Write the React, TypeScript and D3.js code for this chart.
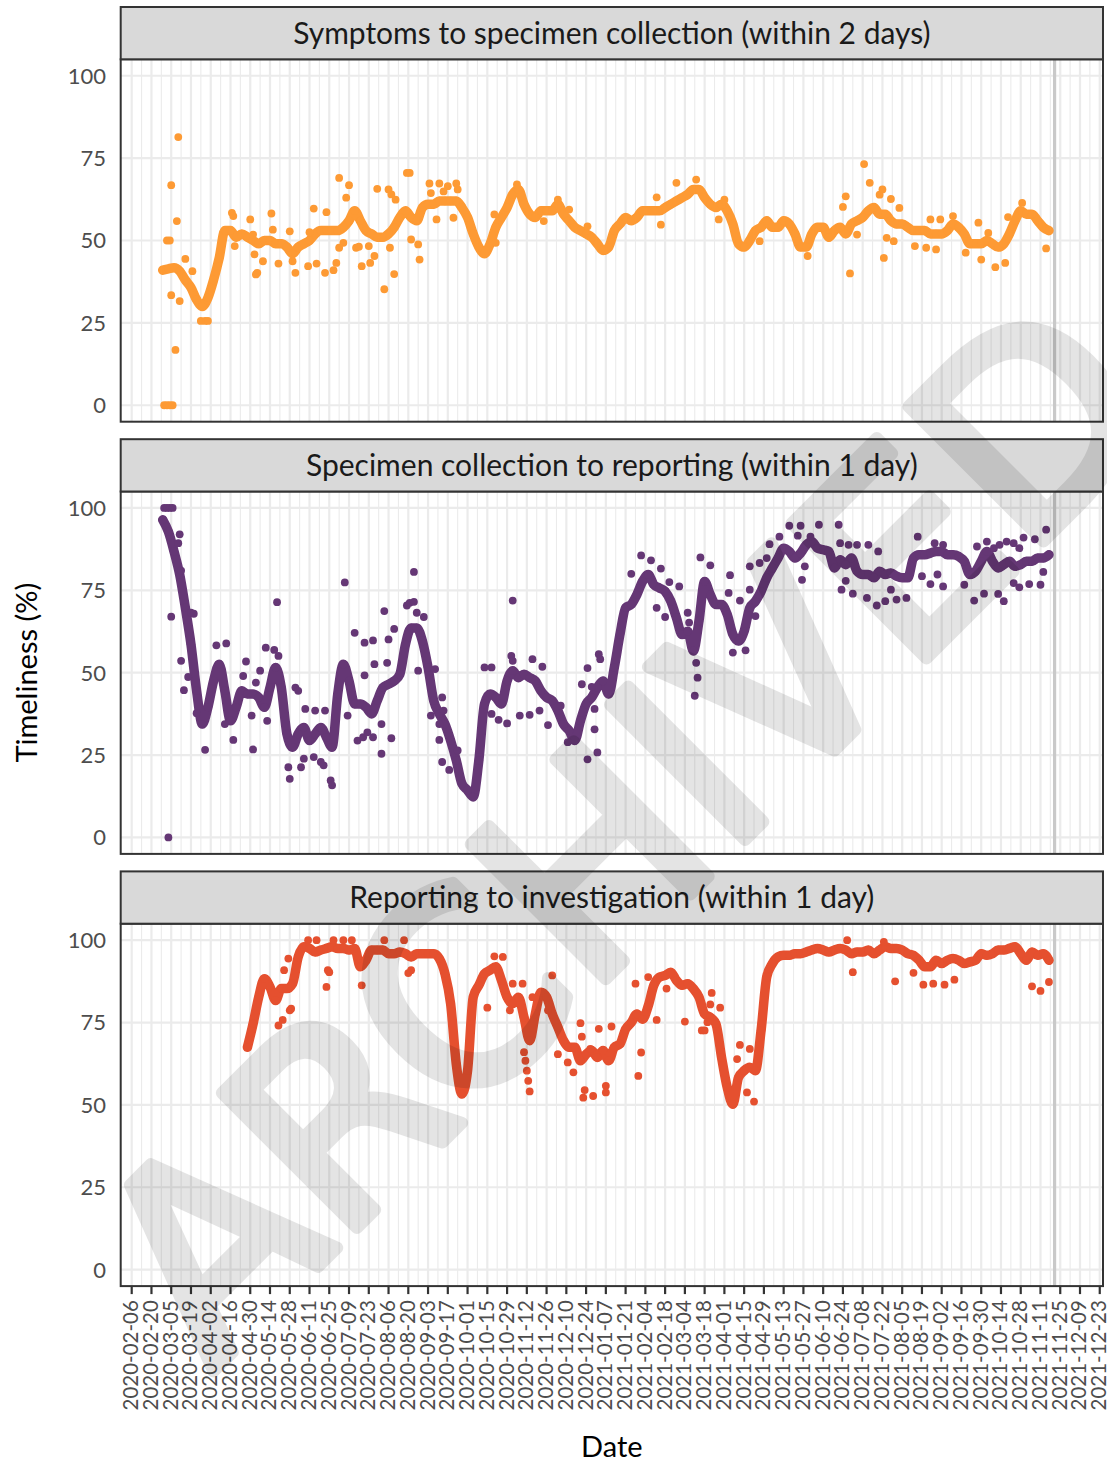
import React from "react";
import * as d3 from "d3";

type Pt = [string, number];

const panelTitles = [
  "Symptoms to specimen collection (within 2 days)",
  "Specimen collection to reporting (within 1 day)",
  "Reporting to investigation (within 1 day)",
];
const seriesColors = ["#fd9a34", "#653775", "#e5502f"];

// main daily trace, read every 4 days from the start date
const traceStarts = ["2020-02-28", "2020-02-28", "2020-04-28"];
const traceStep = 4;

const symptomsTrace = [
  41, 41.4, 41.7, 40.7, 38, 35.7, 32, 30, 32.6, 38, 44.7, 53, 53, 51, 52, 51, 50, 49, 50, 50,
  49, 49, 48, 46, 48, 49, 50, 52, 53, 53, 53, 53, 54, 56, 59, 56, 53, 52, 51, 51,
  52, 54, 57, 59, 57, 56, 60, 61, 61, 62, 62, 62, 62, 60, 57, 52, 48, 46, 49, 54,
  57, 60, 64, 65.5, 61, 58, 57, 59, 59, 59, 61, 58, 56, 54, 53, 52, 51, 49, 47,
  48, 53, 55, 57, 56, 57, 59, 59, 59, 59, 60, 61, 62, 63, 64, 65.5, 65.5, 63, 61, 60,
  61, 59, 55, 49, 48, 50, 53, 54, 56, 54, 54, 56, 55, 52, 48, 48, 52, 54, 54, 51,
  53, 54, 52, 55, 56, 57, 59, 60, 58, 58, 56, 55, 55, 54, 53, 53, 53, 52, 52, 52,
  53, 55, 54, 52, 49, 49, 49, 50, 49, 48, 49, 52, 56, 59, 58, 58, 56, 54, 53,
];

const collectionTrace = [
  96.4, 92.8, 86.8, 79.8, 69.7, 58.6, 44.5, 34.4, 39.5, 47.5, 52.6, 44.5, 35.4, 39.5, 44.5, 43.5, 43.5, 42.5, 39.5, 45.5,
  51.6, 45.5, 31.4, 27.4, 31.4, 33.4, 29.4, 31.4, 33.4, 30.4, 27.4, 43.5, 52.6, 47.5, 40.5, 40.5, 39.5, 37.5, 41.5, 45.5,
  46.5, 47.5, 49.5, 58.6, 63.6, 63.6, 59.6, 51.6, 41.5, 37.5, 34.4, 29.4, 23.4, 16.3, 14.3, 12.3, 23.4, 40.5, 43.5, 42.5,
  40.5, 47.5, 50.6, 48.5, 49.5, 48.5, 47.5, 44.5, 42.5, 41.5, 38.5, 34.4, 32.4, 29.4, 35.4, 40.5, 42.5, 45.5, 47.5,
  43.5, 51.6, 61.6, 69.7, 70.7, 73.7, 77.7, 79.8, 76.7, 75.7, 74.7, 71.7, 66.7, 61.6, 62.6, 56.6, 65.7, 77.7, 73.7, 70.7,
  70.7, 67.7, 61.6, 59.6, 62.6, 69.7, 71.7, 74.7, 78.8, 81.8, 84.8, 87.8, 86.8, 84.8, 86.3, 88.8, 89.8, 87.8, 87.3, 86.8,
  81.8, 84.3, 82.8, 84.8, 80.8, 79.8, 79.8, 78.8, 80.8, 79.8, 80.3, 79.3, 78.8, 78.8, 84.8, 85.8, 85.8, 86.3, 86.8, 86.8,
  85.8, 85.8, 85.3, 83.8, 79.8, 80.8, 83.8, 86.8, 83.8, 81.8, 82.8, 83.8, 82.3, 82.8, 83.8, 83.8, 84.8, 84.8, 85.8,
];

const reportingTrace = [
  67.5, 74.6, 82.7, 88.3, 85.8, 81.7, 85.3, 85.3, 86.8, 94.9, 98, 97.5, 96.4, 97, 97.5, 98, 97.5, 97.5, 97, 97.5,
  91.9, 93.9, 97, 97, 97, 95.9, 95.9, 96.4, 95.9, 94.9, 95.9, 95.9, 95.9, 95.9, 94.4, 89.8, 80.7, 62.4, 53.3, 60.4,
  82.7, 86.3, 89.8, 90.9, 91.9, 87.8, 82.7, 80.7, 82.7, 76.6, 69.5, 77.6, 84.2, 82.7, 77.6, 73.6, 69.5, 67.5, 67.5, 63.4,
  65.4, 66.5, 64.4, 66.5, 63.4, 67.5, 68.5, 73, 75, 77.6, 76, 80, 86.3, 88.8, 89.3, 90.3, 87.8, 86.3, 86.8, 85.3,
  82.7, 77.6, 76.6, 74.6, 64.4, 55.3, 50.2, 58.3, 60.4, 61.4, 60.4, 72.6, 88.8, 92.9, 94.9, 95.4, 95.4, 95.9, 95.9, 96.4,
  97, 97.5, 97, 96.4, 97, 97.5, 97, 95.9, 96.4, 96.4, 97, 95.9, 97, 98, 97.5, 97.5, 97, 95.9, 95.4, 93.9,
  91.9, 91.9, 93.9, 92.9, 93.9, 94.4, 93.9, 92.9, 93.4, 93.9, 95.9, 95.4, 95.9, 97, 97, 97.5, 98, 95.9, 93.9, 96.4,
  95.4, 95.9, 93.9,
];

// single days lying away from the main trace
const symptomsOutliers: Pt[] = [
  ["2020-03-10", 81.4], ["2020-03-05", 66.8], ["2020-03-09", 55.9], ["2020-03-02", 50], ["2020-03-04", 50],
  ["2020-03-05", 33.4], ["2020-03-08", 16.8], ["2020-02-29", 0], ["2020-03-02", 0], ["2020-03-04", 0], ["2020-03-06", 0],
  ["2020-03-11", 31.6], ["2020-03-15", 44.4], ["2020-03-20", 40.7], ["2020-03-26", 25.6], ["2020-03-29", 25.6],
  ["2020-03-31", 25.6], ["2020-04-17", 58.4], ["2020-04-18", 57.4], ["2020-04-30", 56.4], ["2020-05-02", 51.8],
  ["2020-04-19", 48.3], ["2020-05-03", 45.8], ["2020-05-04", 39.7], ["2020-05-05", 40.2], ["2020-05-09", 43.7],
  ["2020-05-15", 58.2], ["2020-05-16", 53.3], ["2020-05-20", 43], ["2020-05-28", 52.8], ["2020-06-01", 40.2],
  ["2020-05-30", 43.7], ["2020-06-11", 52.5], ["2020-06-10", 42.2], ["2020-06-16", 43], ["2020-06-14", 59.7],
  ["2020-06-23", 58.6], ["2020-06-22", 40.2], ["2020-06-28", 41], ["2020-06-30", 43.2], ["2020-07-02", 47.8],
  ["2020-07-05", 49.3], ["2020-07-02", 69], ["2020-07-09", 66.8], ["2020-07-07", 63], ["2020-07-14", 47.8],
  ["2020-07-16", 48.1], ["2020-07-18", 42.2], ["2020-07-23", 48.3], ["2020-07-24", 43.2], ["2020-07-27", 45.3],
  ["2020-07-29", 65.7], ["2020-08-06", 65.5], ["2020-08-08", 64], ["2020-08-11", 62.4], ["2020-08-03", 35.2],
  ["2020-08-10", 39.8], ["2020-08-07", 47.8], ["2020-08-19", 70.5], ["2020-08-21", 70.5], ["2020-08-22", 50.3],
  ["2020-08-27", 48.8], ["2020-08-28", 44.2], ["2020-09-04", 67.3], ["2020-09-11", 67.3], ["2020-09-17", 66.5],
  ["2020-09-23", 67.3], ["2020-09-05", 64.4], ["2020-09-14", 64.9], ["2020-09-24", 65.5], ["2020-09-09", 56.4],
  ["2020-09-21", 56.9], ["2020-10-20", 57.9], ["2020-10-21", 49.3], ["2020-11-05", 67], ["2020-11-24", 55.9],
  ["2020-12-04", 62.4], ["2020-12-12", 59.4], ["2020-12-25", 54.3], ["2021-02-26", 67.5], ["2021-02-12", 63.1],
  ["2021-03-12", 68.5], ["2021-03-28", 56.4], ["2021-02-15", 54.8], ["2021-04-01", 62.4], ["2021-04-26", 49.8],
  ["2021-05-30", 45.3], ["2021-06-26", 63.4], ["2021-06-24", 60.2], ["2021-06-29", 40], ["2021-07-04", 51.8],
  ["2021-07-09", 73.2], ["2021-07-13", 67.5], ["2021-07-20", 63.9], ["2021-07-22", 65.5], ["2021-07-28", 62.6],
  ["2021-07-23", 44.7], ["2021-07-25", 50.8], ["2021-07-30", 49.8], ["2021-08-03", 59.9], ["2021-08-14", 48.3],
  ["2021-08-22", 47.8], ["2021-08-29", 47.3], ["2021-09-01", 56.4], ["2021-08-25", 56.4], ["2021-09-10", 57.4],
  ["2021-09-19", 46.3], ["2021-09-28", 55.4], ["2021-09-30", 44.2], ["2021-10-10", 41.9], ["2021-10-17", 43.2],
  ["2021-10-05", 52.3], ["2021-10-19", 57.1], ["2021-11-15", 47.6], ["2021-10-29", 61.4],
];

const collectionOutliers: Pt[] = [
  ["2020-02-29", 100], ["2020-03-02", 100], ["2020-03-04", 100], ["2020-03-06", 100], ["2020-03-03", 0],
  ["2020-03-05", 67], ["2020-03-11", 92], ["2020-03-10", 89.3], ["2020-03-12", 81], ["2020-03-12", 53.6],
  ["2020-03-14", 44.7], ["2020-03-17", 48.7], ["2020-03-19", 68.2], ["2020-03-21", 67.9], ["2020-03-23", 37.7],
  ["2020-03-29", 26.6], ["2020-04-06", 58.3], ["2020-04-13", 58.9], ["2020-04-12", 34.4], ["2020-04-18", 29.6],
  ["2020-04-27", 53.4], ["2020-04-25", 49], ["2020-05-02", 26.7], ["2020-05-04", 47], ["2020-05-07", 50.6],
  ["2020-05-01", 37], ["2020-05-11", 57.6], ["2020-05-17", 56.9], ["2020-05-20", 55.1], ["2020-05-19", 71.4],
  ["2020-05-12", 35.4], ["2020-06-01", 45.5], ["2020-06-03", 44.5], ["2020-05-27", 21.3], ["2020-05-28", 17.8],
  ["2020-06-05", 21.3], ["2020-06-07", 23.9], ["2020-06-08", 39], ["2020-06-15", 38.5], ["2020-06-22", 38.5],
  ["2020-06-14", 24.4], ["2020-06-19", 22.9], ["2020-06-21", 21.9], ["2020-06-26", 17.3], ["2020-06-27", 15.8],
  ["2020-07-06", 77.4], ["2020-07-08", 37], ["2020-07-13", 62.1], ["2020-07-15", 29.4], ["2020-07-19", 30.4],
  ["2020-07-22", 31.9], ["2020-07-20", 49.2], ["2020-07-20", 59.1], ["2020-07-26", 59.8], ["2020-07-27", 52.6],
  ["2020-07-26", 30.4], ["2020-08-01", 34.4], ["2020-08-01", 25.4], ["2020-08-08", 30.1], ["2020-08-03", 68.7],
  ["2020-08-06", 60.1], ["2020-08-10", 63.3], ["2020-08-05", 53], ["2020-08-19", 70.4], ["2020-08-21", 71.2],
  ["2020-08-24", 71.5], ["2020-08-24", 80.6], ["2020-08-26", 68.2], ["2020-08-31", 66.9], ["2020-08-27", 50.6],
  ["2020-09-08", 51.1], ["2020-09-05", 37], ["2020-09-11", 34.4], ["2020-09-11", 29.6], ["2020-09-13", 42.5],
  ["2020-09-14", 38.5], ["2020-09-13", 22.9], ["2020-09-18", 20.5], ["2020-09-24", 26.4], ["2020-10-13", 51.6],
  ["2020-10-18", 51.6], ["2020-10-18", 37.5], ["2020-10-23", 35.7], ["2020-10-29", 34.6], ["2020-11-02", 71.9],
  ["2020-11-01", 55.1], ["2020-11-02", 53.6], ["2020-11-07", 37], ["2020-11-14", 37.2], ["2020-11-16", 54.1],
  ["2020-11-23", 51.8], ["2020-11-21", 38.5], ["2020-11-27", 34.1], ["2020-12-06", 40], ["2020-12-11", 28.9],
  ["2020-12-25", 23.7], ["2021-01-01", 25.8], ["2020-12-25", 51.4], ["2021-01-02", 55.6], ["2021-01-03", 54.1],
  ["2020-12-21", 46.5], ["2020-12-28", 45.7], ["2020-12-30", 32.8], ["2020-12-30", 39],
  ["2021-01-25", 80], ["2021-02-01", 85.6], ["2021-02-08", 84.1], ["2021-02-15", 81.6], ["2021-02-21", 77.5],
  ["2021-02-28", 76.2], ["2021-02-12", 69.7], ["2021-02-18", 66.9], ["2021-03-06", 68.2], ["2021-03-07", 65.2],
  ["2021-03-15", 85], ["2021-03-22", 82.6], ["2021-03-12", 53], ["2021-03-13", 48.5], ["2021-03-11", 43],
  ["2021-04-05", 79.6], ["2021-04-04", 74.2], ["2021-04-12", 71.9], ["2021-04-19", 75.2], ["2021-04-23", 67.2],
  ["2021-04-07", 56.1], ["2021-04-16", 56.8], ["2021-04-19", 82.3], ["2021-04-26", 83.3], ["2021-05-01", 84.8],
  ["2021-05-03", 89], ["2021-05-10", 91.3], ["2021-05-17", 94.6], ["2021-05-25", 94.6], ["2021-06-07", 94.9],
  ["2021-06-21", 94.9], ["2021-05-23", 91.6], ["2021-06-01", 91.3], ["2021-05-26", 78.2], ["2021-05-28", 82.3],
  ["2021-06-22", 89.3], ["2021-06-28", 88.8], ["2021-07-04", 88.8], ["2021-06-26", 77.9], ["2021-06-23", 75.2],
  ["2021-07-01", 74], ["2021-07-11", 72.7], ["2021-07-18", 70.4], ["2021-07-24", 71.7], ["2021-08-01", 72.2],
  ["2021-08-08", 72.7], ["2021-07-12", 88.8], ["2021-07-19", 86.8], ["2021-07-28", 75.2], ["2021-08-16", 91.3],
  ["2021-08-19", 79.3], ["2021-08-25", 76.9], ["2021-08-30", 79.8], ["2021-09-03", 76.2], ["2021-08-28", 89.3],
  ["2021-09-03", 88.8], ["2021-09-18", 76.7], ["2021-09-25", 71.9], ["2021-10-02", 74], ["2021-10-12", 73.9],
  ["2021-10-16", 71.7], ["2021-09-27", 88.3], ["2021-10-04", 89.8], ["2021-10-23", 77.2], ["2021-10-27", 75.9],
  ["2021-11-03", 76.9], ["2021-11-11", 76.7], ["2021-10-30", 91], ["2021-11-07", 90.5], ["2021-11-15", 93.4],
  ["2021-11-13", 80.6], ["2021-10-09", 87.8], ["2021-10-13", 88.8], ["2021-10-18", 89.8], ["2021-10-23", 89.3],
  ["2021-10-27", 87.8],
];

const reportingOutliers: Pt[] = [
  ["2020-05-27", 94.4], ["2020-05-24", 90.9], ["2020-05-20", 74.1], ["2020-05-23", 75.8], ["2020-05-28", 78.7],
  ["2020-05-29", 79.2], ["2020-06-24", 90.9], ["2020-06-25", 90.3], ["2020-06-23", 85.8], ["2020-06-10", 100],
  ["2020-06-16", 100], ["2020-06-28", 100], ["2020-07-05", 100], ["2020-07-11", 100], ["2020-08-03", 100],
  ["2020-08-17", 100], ["2020-07-18", 86.3], ["2020-08-20", 90], ["2020-08-22", 90.9], ["2020-10-15", 79.5],
  ["2020-10-20", 95.1], ["2020-10-26", 94.9], ["2020-11-30", 89.3], ["2020-11-10", 66], ["2020-11-11", 63.4],
  ["2020-11-12", 60.4], ["2020-11-13", 57.3], ["2020-11-14", 54.1], ["2020-10-31", 78.7], ["2020-11-02", 86.8],
  ["2020-11-09", 86.8], ["2020-11-16", 82.7], ["2020-11-27", 78.7], ["2020-12-20", 74.8], ["2020-12-21", 70.7],
  ["2020-12-27", 67], ["2021-01-02", 73.1], ["2021-01-11", 73.8], ["2020-12-23", 54.5], ["2020-12-29", 52.7],
  ["2021-01-07", 55.8], ["2021-01-07", 53.8], ["2020-12-22", 52.2], ["2021-01-28", 86.8], ["2021-01-30", 58.8],
  ["2020-12-15", 59.9], ["2020-12-04", 65.4], ["2020-12-11", 62.9], ["2021-02-01", 65.9], ["2021-02-06", 88.8],
  ["2021-02-19", 85.3], ["2021-02-12", 75.8], ["2021-03-04", 75.3], ["2021-03-23", 84], ["2021-03-22", 80.5],
  ["2021-03-29", 79.5], ["2021-03-16", 72.6], ["2021-03-18", 72.6], ["2021-03-20", 75.1], ["2021-04-12", 68.2],
  ["2021-04-19", 67], ["2021-04-10", 63.9], ["2021-04-17", 53.8], ["2021-04-22", 51], ["2021-07-01", 90.3],
  ["2021-07-31", 87.5], ["2021-08-13", 90.1], ["2021-08-20", 86.5], ["2021-08-27", 86.8], ["2021-09-04", 86.5],
  ["2021-09-11", 88], ["2021-11-05", 86], ["2021-11-11", 84.6], ["2021-11-17", 87.3], ["2021-06-27", 100],
  ["2021-07-23", 99.5],
];

const dateTicks = [
  "2020-02-06", "2020-02-20", "2020-03-05", "2020-03-19", "2020-04-02", "2020-04-16", "2020-04-30",
  "2020-05-14", "2020-05-28", "2020-06-11", "2020-06-25", "2020-07-09", "2020-07-23", "2020-08-06",
  "2020-08-20", "2020-09-03", "2020-09-17", "2020-10-01", "2020-10-15", "2020-10-29", "2020-11-12",
  "2020-11-26", "2020-12-10", "2020-12-24", "2021-01-07", "2021-01-21", "2021-02-04", "2021-02-18",
  "2021-03-04", "2021-03-18", "2021-04-01", "2021-04-15", "2021-04-29", "2021-05-13", "2021-05-27",
  "2021-06-10", "2021-06-24", "2021-07-08", "2021-07-22", "2021-08-05", "2021-08-19", "2021-09-02",
  "2021-09-16", "2021-09-30", "2021-10-14", "2021-10-28", "2021-11-11", "2021-11-25", "2021-12-09",
  "2021-12-23",
];
const yTicks = [0, 25, 50, 75, 100];
const cutoffDate = "2021-11-21";

const parse = d3.utcParse("%Y-%m-%d");
const DAY = 864e5;

const width = 1107;
const height = 1464;
const plotLeft = 120.7;
const plotRight = 1103;
const top0 = 7;
const stripH = 52.3;
const plotH = 362.4;
const panelStep = 432.2;
const font = "Lato, 'Open Sans', sans-serif";

const tickDates = dateTicks.map((d) => parse(d)!);
const minorDates = tickDates.slice(1).map((d, i) => new Date((+d + +tickDates[i]) / 2));

const x = d3
  .scaleUtc()
  .domain([new Date(+tickDates[0] - 7.8 * DAY), new Date(+tickDates[tickDates.length - 1] + 2.3 * DAY)])
  .range([plotLeft, plotRight]);

const panels = [
  { trace: symptomsTrace, extra: symptomsOutliers },
  { trace: collectionTrace, extra: collectionOutliers },
  { trace: reportingTrace, extra: reportingOutliers },
];

function Panel({ index }: { index: number }) {
  const { trace, extra } = panels[index];
  const color = seriesColors[index];
  const stripTop = top0 + index * panelStep;
  const plotTop = stripTop + stripH;
  const plotBottom = plotTop + plotH;
  const y = d3.scaleLinear().domain([-5, 105]).range([plotBottom, plotTop]);

  const t0 = parse(traceStarts[index])!;
  const pts: [Date, number][] = trace.map((v, i) => [d3.utcDay.offset(t0, i * traceStep), v]);
  const line = d3
    .line<[Date, number]>()
    .x((d) => x(d[0]))
    .y((d) => y(d[1]))
    .curve(d3.curveMonotoneX);

  const cut = x(parse(cutoffDate)!);

  return (
    <g>
      <rect x={plotLeft} y={plotTop} width={plotRight - plotLeft} height={plotH} fill="#fff" />
      {minorDates.map((d, i) => (
        <line key={"mn" + i} x1={x(d)} x2={x(d)} y1={plotTop} y2={plotBottom} stroke="#ebebeb" strokeWidth={1.1} />
      ))}
      {tickDates.map((d, i) => (
        <line key={"mj" + i} x1={x(d)} x2={x(d)} y1={plotTop} y2={plotBottom} stroke="#ebebeb" strokeWidth={2.2} />
      ))}
      {yTicks.map((t) => (
        <line key={"h" + t} x1={plotLeft} x2={plotRight} y1={y(t)} y2={y(t)} stroke="#ebebeb" strokeWidth={2.2} />
      ))}
      <line x1={cut} x2={cut} y1={plotTop} y2={plotBottom} stroke="#c9c9c9" strokeWidth={3.2} />

      <path d={line(pts) ?? ""} fill="none" stroke={color} strokeWidth={9.5} strokeLinejoin="round" strokeLinecap="round" />
      {pts.map((d, i) => (
        <circle key={"p" + i} cx={x(d[0])} cy={y(d[1])} r={4.2} fill={color} />
      ))}
      {extra.map((d, i) => (
        <circle key={"o" + i} cx={x(parse(d[0])!)} cy={y(d[1])} r={3.9} fill={color} />
      ))}

      <rect x={plotLeft} y={plotTop} width={plotRight - plotLeft} height={plotH} fill="none" stroke="#333" strokeWidth={2} />
      <rect x={plotLeft} y={stripTop} width={plotRight - plotLeft} height={stripH} fill="#d9d9d9" stroke="#333" strokeWidth={2} />
      <text
        x={(plotLeft + plotRight) / 2}
        y={stripTop + stripH / 2}
        dy="0.36em"
        textAnchor="middle"
        fontSize={30}
        fill="#1a1a1a"
        fontFamily={font}
      >
        {panelTitles[index]}
      </text>

      {yTicks.map((t) => (
        <text key={"yl" + t} x={106} y={y(t)} dy="0.36em" textAnchor="end" fontSize={22} fill="#4d4d4d" fontFamily={font}>
          {t}
        </text>
      ))}
    </g>
  );
}

export default function App() {
  const axisTop = top0 + 2 * panelStep + stripH + plotH;
  return (
    <svg
      width={width}
      height={height}
      viewBox={`0 0 ${width} ${height}`}
      style={{ position: "absolute", left: 0, top: 0, background: "#fff" }}
    >
      <rect width={width} height={height} fill="#fff" />
      {panels.map((_, i) => (
        <Panel key={i} index={i} />
      ))}

      {tickDates.map((d, i) => (
        <g key={"xt" + i} transform={`translate(${x(d)},${axisTop})`}>
          <line y1={0} y2={8} stroke="#333" strokeWidth={2.2} />
          <text
            transform="rotate(-90)"
            x={-14}
            y={-0.5}
            dy="0.34em"
            textAnchor="end"
            fontSize={20.5}
            fill="#4d4d4d"
            fontFamily={font}
          >
            {dateTicks[i]}
          </text>
        </g>
      ))}

      <text x={(plotLeft + plotRight) / 2} y={1457} textAnchor="middle" fontSize={29} fill="#000" fontFamily={font}>
        Date
      </text>
      <text
        transform={`translate(27,${(top0 + stripH + axisTop) / 2}) rotate(-90)`}
        dy="0.36em"
        textAnchor="middle"
        fontSize={29}
        fill="#000"
        fontFamily={font}
      >
        Timeliness (%)
      </text>

      <g opacity={0.1} pointerEvents="none">
        <text
          x={690}
          y={895}
          transform="rotate(-45 690 895)"
          textAnchor="middle"
          fontSize={262}
          fontFamily="'DejaVu Sans', sans-serif"
          fill="#000"
          stroke="#000"
          strokeWidth={12}
          strokeLinejoin="round"
        >
          ARCHIVED
        </text>
      </g>
    </svg>
  );
}
